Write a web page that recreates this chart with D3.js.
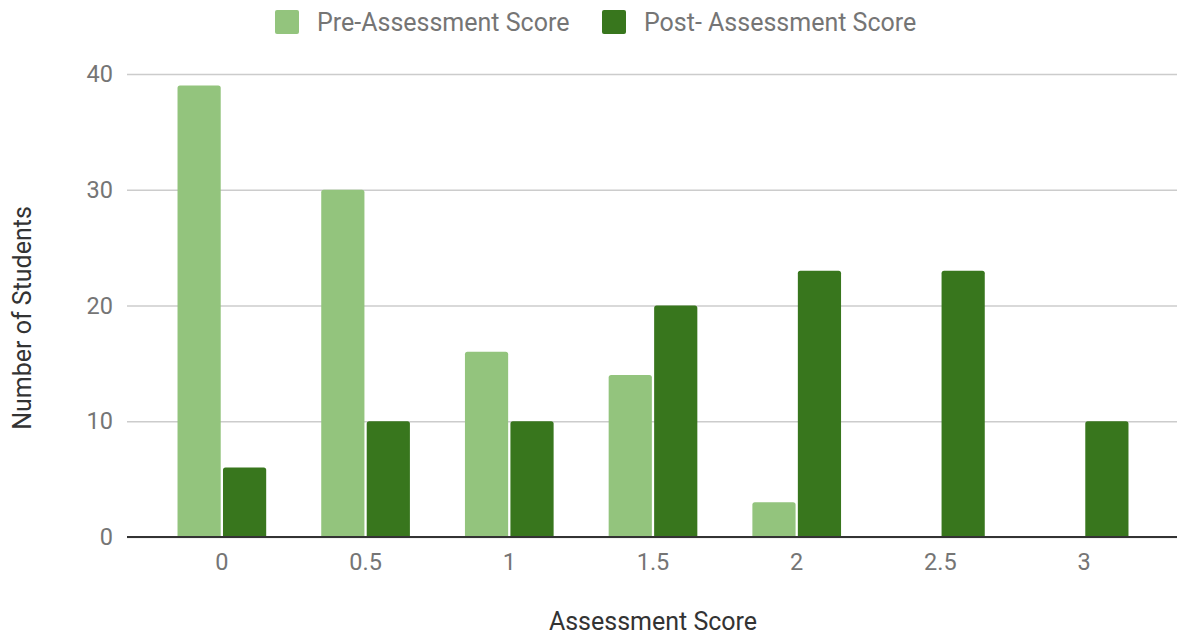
<!DOCTYPE html>
<html lang="en">
<head>
<meta charset="UTF-8">
<title>Chart</title>
<style>
body { margin: 0; background: #fff; font-family: Roboto, sans-serif; }
.tick text { fill: #757575; font-size: 23.5px; font-family: Roboto, sans-serif; }
.legend text { fill: #757575; font-size: 25px; }
.axis-title { fill: #333; font-size: 25px; }
</style>
</head>
<body>
<div id="chart"></div>
<script src="https://cdnjs.cloudflare.com/ajax/libs/d3/7.8.5/d3.min.js"></script>
<script>
var categories = ["0", "0.5", "1", "1.5", "2", "2.5", "3"];
var seriesNames = ["Pre-Assessment Score", "Post- Assessment Score"];
var preScores = [39, 30, 16, 14, 3, 0, 0];
var postScores = [6, 10, 10, 20, 23, 23, 10];
var yTicks = [0, 10, 20, 30, 40];
var colors = ["#93c47d", "#38761d"];

var width = 1177, height = 636;
var plotLeft = 127, plotRight = 1177, plotTop = 74, plotBottom = 537;

var svg = d3.select('#chart').append('svg')
  .attr('width', width)
  .attr('height', height);

var y = d3.scaleLinear().domain([0, 40]).range([plotBottom, plotTop]);

var x0 = d3.scaleBand()
  .domain(categories)
  .range([150, 1156])
  .paddingInner(0.383)
  .paddingOuter(0.1915);

var x1 = d3.scaleBand()
  .domain(seriesNames)
  .range([0, x0.bandwidth()])
  .paddingInner(0.05);

// gridlines + y labels
var yAxis = svg.append('g')
  .attr('transform', 'translate(' + plotLeft + ',0)')
  .call(d3.axisLeft(y).tickValues(yTicks).tickSize(-(plotRight - plotLeft)).tickPadding(14));
yAxis.select('.domain').remove();
yAxis.selectAll('.tick line').attr('stroke', '#cccccc').attr('stroke-width', 1.5);

var data = categories.map(function (c, i) {
  return { cat: c, values: [preScores[i], postScores[i]] };
});

var groups = svg.selectAll('.group')
  .data(data)
  .enter().append('g')
  .attr('transform', function (d) { return 'translate(' + x0(d.cat) + ',0)'; });

groups.selectAll('path')
  .data(function (d) {
    return d.values.map(function (v, i) { return { name: seriesNames[i], value: v, i: i }; })
      .filter(function (d) { return d.value > 0; });
  })
  .enter().append('path')
  .attr('fill', function (d) { return colors[d.i]; })
  .attr('d', function (d) {
    var x = x1(d.name), w = x1.bandwidth(), yt = y(d.value), r = 2.5;
    return 'M' + x + ',' + plotBottom +
      'V' + (yt + r) + 'Q' + x + ',' + yt + ' ' + (x + r) + ',' + yt +
      'H' + (x + w - r) + 'Q' + (x + w) + ',' + yt + ' ' + (x + w) + ',' + (yt + r) +
      'V' + plotBottom + 'Z';
  });

// x axis
var xAxis = svg.append('g')
  .attr('transform', 'translate(0,' + plotBottom + ')')
  .call(d3.axisBottom(x0).tickSize(0).tickPadding(16));
xAxis.select('.domain').remove();
svg.append('line')
  .attr('x1', plotLeft).attr('x2', plotRight)
  .attr('y1', plotBottom).attr('y2', plotBottom)
  .attr('stroke', '#333').attr('stroke-width', 2);

// axis titles
svg.append('text').attr('class', 'axis-title')
  .attr('x', 653).attr('y', 630)
  .attr('text-anchor', 'middle')
  .text('Assessment Score');
svg.append('text').attr('class', 'axis-title')
  .attr('transform', 'translate(31,318) rotate(-90)')
  .attr('text-anchor', 'middle')
  .text('Number of Students');

// legend
var legendX = [275, 602];
var legend = svg.selectAll('.legend')
  .data(seriesNames)
  .enter().append('g')
  .attr('class', 'legend')
  .attr('transform', function (d, i) { return 'translate(' + legendX[i] + ',10)'; });
legend.append('rect')
  .attr('width', 24).attr('height', 24).attr('rx', 2)
  .attr('fill', function (d, i) { return colors[i]; });
legend.append('text')
  .attr('x', 42).attr('y', 21)
  .text(function (d) { return d; });
</script>
</body>
</html>
